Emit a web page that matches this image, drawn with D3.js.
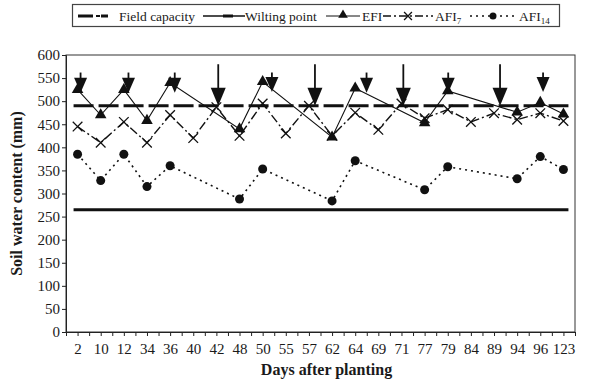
<!DOCTYPE html>
<html><head><meta charset="utf-8">
<script src="https://cdn.jsdelivr.net/npm/d3@7"></script>
<style>
html,body{margin:0;padding:0;background:#fff;}
svg text{font-family:"Liberation Serif","Times New Roman",serif;fill:#1a1a1a;}
</style></head>
<body><svg id="c" width="590" height="382"></svg>
<script>
// ---------- data ----------
const days = ["2","10","12","34","36","40","42","48","50","55","57","62","64","69","71","77","79","84","89","94","96","123"];
const fieldCapacity = 490;
const wiltingPoint = 265;
const efiDays   = ["2","10","12","34","36","48","50","62","64","77","79","94","96","123"];
const efiValues = [525,470,525,458,540,440,542,422,528,453,522,476,497,472];
const afi7Values = [445,410,455,410,470,420,487,425,495,430,490,425,475,438,495,463,482,455,474,460,474,457];
const afi14Days   = ["2","10","12","34","36","48","50","62","64","77","79","94","96","123"];
const afi14Values = [385,328,385,315,360,288,353,284,371,308,358,332,380,352];
// irrigation arrows: position as (fractional) category index, top and tip in mm
const arrowIdx = [0.13,2.2,4.2,6.08,8.4,10.26,12.49,14.08,16.02,18.26,20.12];
const arrowTop = [562,562,562,580,562,580,562,580,562,580,562];
const arrowTip = [518,518,518,490,520,490,518,490,518,490,520];
const yTicks = [0,50,100,150,200,250,300,350,400,450,500,550,600];

// ---------- layout ----------
const L=66,R=575,T=55,B=332;
const svg=d3.select("#c");
const x=d3.scalePoint().domain(days).range([L,R]).padding(0.5);
const xi=d3.scaleLinear().domain([0,days.length-1]).range([x(days[0]),x(days[days.length-1])]);
const y=d3.scaleLinear().domain([0,600]).range([B,T]);

// frame
svg.append("rect").attr("x",L).attr("y",T).attr("width",R-L).attr("height",B-T)
  .attr("fill","none").attr("stroke","#333").attr("stroke-width",1);

// axes
const gx=svg.append("g").attr("transform",`translate(0,${B})`)
  .call(d3.axisBottom(x).tickSize(4).tickPadding(7));
gx.selectAll("text").attr("font-size",15).attr("fill","#1a1a1a");
gx.select(".domain").attr("stroke","#222");
gx.selectAll(".tick line").attr("stroke","#222");
const gx2=svg.append("g").attr("transform",`translate(0,${B})`)
  .call(d3.axisBottom(xi).tickValues(d3.range(-0.5,days.length,1)).tickFormat("").tickSize(4));
gx2.select(".domain").remove();
gx2.selectAll(".tick line").attr("stroke","#222");

const gy=svg.append("g").attr("transform",`translate(${L},0)`)
  .call(d3.axisLeft(y).tickValues(yTicks).tickSize(4).tickPadding(2));
gy.selectAll("text").attr("font-size",15).attr("fill","#1a1a1a");
gy.select(".domain").attr("stroke","#222");
gy.selectAll(".tick line").attr("stroke","#222");

svg.append("text").attr("x",(L+R)/2+6).attr("y",375).attr("text-anchor","middle")
  .attr("font-size",16).attr("font-weight","bold").text("Days after planting");
svg.append("text").attr("transform",`translate(22,${(T+B)/2}) rotate(-90)`)
  .attr("text-anchor","middle").attr("font-size",16).attr("font-weight","bold")
  .text("Soil water content (mm)");

// reference lines
const x0=x(days[0]), x1=x(days[days.length-1]);
svg.append("line").attr("x1",x0-4).attr("x2",x1+5).attr("y1",y(wiltingPoint)).attr("y2",y(wiltingPoint))
  .attr("stroke","#111").attr("stroke-width",3);
svg.append("line").attr("x1",x0-4).attr("x2",x1+5).attr("y1",y(fieldCapacity)).attr("y2",y(fieldCapacity))
  .attr("stroke","#111").attr("stroke-width",3).attr("stroke-dasharray","20,5");

// series lines
const line=d3.line().x(d=>x(d[0])).y(d=>y(d[1]));
svg.append("path").datum(efiDays.map((d,i)=>[d,efiValues[i]])).attr("d",line)
  .attr("fill","none").attr("stroke","#111").attr("stroke-width",1.1);
svg.append("path").datum(days.map((d,i)=>[d,afi7Values[i]])).attr("d",line)
  .attr("fill","none").attr("stroke","#111").attr("stroke-width",1.4).attr("stroke-dasharray","9,3,2,3");
svg.append("path").datum(afi14Days.map((d,i)=>[d,afi14Values[i]])).attr("d",line)
  .attr("fill","none").attr("stroke","#111").attr("stroke-width",1.6).attr("stroke-dasharray","2,4");

// markers
svg.append("g").selectAll("path").data(efiDays.map((d,i)=>[d,efiValues[i]])).join("path")
  .attr("transform",d=>`translate(${x(d[0])},${y(d[1])})`)
  .attr("d",d3.symbol(d3.symbolTriangle,58)).attr("fill","#111");
svg.append("g").selectAll("path").data(days.map((d,i)=>[d,afi7Values[i]])).join("path")
  .attr("transform",d=>`translate(${x(d[0])},${y(d[1])})`)
  .attr("d",d3.symbol(d3.symbolX,62)).attr("fill","none").attr("stroke","#111").attr("stroke-width",1.3);
svg.append("g").selectAll("circle").data(afi14Days.map((d,i)=>[d,afi14Values[i]])).join("circle")
  .attr("cx",d=>x(d[0])).attr("cy",d=>y(d[1])).attr("r",4.5).attr("fill","#111");

// arrows
const ag=svg.append("g");
arrowIdx.forEach((p,i)=>{
  const ax=xi(p), yt=y(arrowTop[i]), yp=y(arrowTip[i]);
  const long = arrowTop[i]-arrowTip[i] > 60;
  const hw = long?7.5:6.5, hh = long?18:15;
  ag.append("line").attr("x1",ax).attr("x2",ax).attr("y1",yt).attr("y2",yp-hh+1)
    .attr("stroke","#111").attr("stroke-width",1.8);
  ag.append("path").attr("d",`M${ax-hw},${yp-hh}L${ax+hw},${yp-hh}L${ax},${yp}Z`).attr("fill","#111");
});

// legend
const lg=svg.append("g");
lg.append("rect").attr("x",72.5).attr("y",4.5).attr("width",487).attr("height",22)
  .attr("fill","#fff").attr("stroke","#444").attr("stroke-width",1.2);
const ly=16;
lg.append("line").attr("x1",78).attr("x2",93).attr("y1",ly).attr("y2",ly).attr("stroke","#111").attr("stroke-width",3);
lg.append("line").attr("x1",96).attr("x2",100).attr("y1",ly).attr("y2",ly).attr("stroke","#111").attr("stroke-width",2);
lg.append("line").attr("x1",101).attr("x2",108).attr("y1",ly).attr("y2",ly).attr("stroke","#111").attr("stroke-width",3);
lg.append("text").attr("x",119).attr("y",ly+4.5).attr("font-size",13.5).text("Field capacity");
lg.append("line").attr("x1",203).attr("x2",245).attr("y1",ly).attr("y2",ly).attr("stroke","#111").attr("stroke-width",1.5);
lg.append("line").attr("x1",223).attr("x2",233).attr("y1",ly).attr("y2",ly).attr("stroke","#111").attr("stroke-width",3);
lg.append("text").attr("x",245).attr("y",ly+4.5).attr("font-size",13.5).text("Wilting point");
lg.append("line").attr("x1",326).attr("x2",360).attr("y1",ly).attr("y2",ly).attr("stroke","#111").attr("stroke-width",1);
lg.append("path").attr("transform",`translate(343,${ly-1})`).attr("d",d3.symbol(d3.symbolTriangle,40)).attr("fill","#111");
lg.append("text").attr("x",362).attr("y",ly+4.5).attr("font-size",13.5).text("EFI");
lg.append("line").attr("x1",383).attr("x2",433).attr("y1",ly).attr("y2",ly).attr("stroke","#111").attr("stroke-width",1.4).attr("stroke-dasharray","8,3,2,3");
lg.append("path").attr("transform",`translate(408,${ly})`).attr("d",d3.symbol(d3.symbolX,42)).attr("fill","none").attr("stroke","#111").attr("stroke-width",1.3);
const t7=lg.append("text").attr("x",435).attr("y",ly+4.5).attr("font-size",13.5).text("AFI");
t7.append("tspan").attr("font-size",9).attr("dy",3).text("7");
lg.append("line").attr("x1",470).attr("x2",517).attr("y1",ly).attr("y2",ly).attr("stroke","#111").attr("stroke-width",1.6).attr("stroke-dasharray","2,4");
lg.append("circle").attr("cx",493).attr("cy",ly).attr("r",3.5).attr("fill","#111");
const t14=lg.append("text").attr("x",519).attr("y",ly+4.5).attr("font-size",13.5).text("AFI");
t14.append("tspan").attr("font-size",9).attr("dy",3).text("14");
</script></body></html>
